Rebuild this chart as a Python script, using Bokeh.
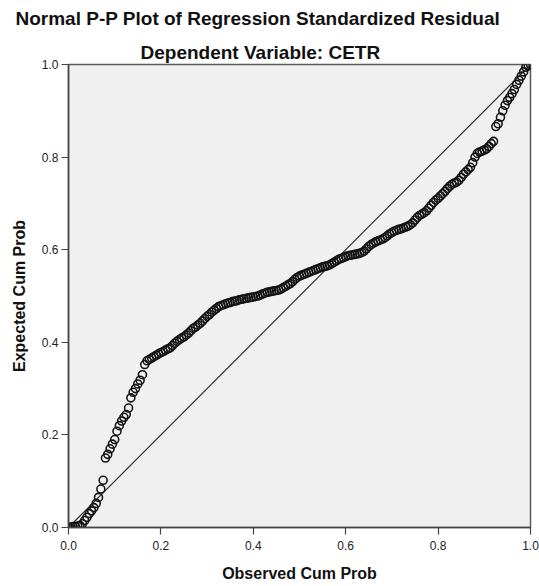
from bokeh.plotting import figure
from bokeh.models import Title, FixedTicker, ColumnDataSource, NumeralTickFormatter
from bokeh.embed import file_html
from bokeh.resources import INLINE

title_main = "Normal P-P Plot of Regression Standardized Residual"
title_sub = "Dependent Variable: CETR"
x_label = "Observed Cum Prob"
y_label = "Expected Cum Prob"
ticks = [0.0, 0.2, 0.4, 0.6, 0.8, 1.0]

observed = [
    0.000, 0.005, 0.010, 0.015, 0.020, 0.025, 0.030, 0.035, 0.040, 0.045,
    0.050, 0.055, 0.060, 0.065, 0.070, 0.075, 0.080, 0.085, 0.090, 0.095,
    0.100, 0.105, 0.110, 0.115, 0.120, 0.125, 0.130, 0.135, 0.140, 0.145,
    0.150, 0.155, 0.160, 0.165, 0.170, 0.175, 0.180, 0.185, 0.190, 0.195,
    0.200, 0.205, 0.210, 0.215, 0.220, 0.225, 0.230, 0.235, 0.240, 0.245,
    0.250, 0.255, 0.260, 0.265, 0.270, 0.275, 0.280, 0.285, 0.290, 0.295,
    0.300, 0.305, 0.310, 0.315, 0.320, 0.325, 0.330, 0.335, 0.340, 0.345,
    0.350, 0.355, 0.360, 0.365, 0.370, 0.375, 0.380, 0.385, 0.390, 0.395,
    0.400, 0.405, 0.410, 0.415, 0.420, 0.425, 0.430, 0.435, 0.440, 0.445,
    0.450, 0.455, 0.460, 0.465, 0.470, 0.475, 0.480, 0.485, 0.490, 0.495,
    0.500, 0.505, 0.510, 0.515, 0.520, 0.525, 0.530, 0.535, 0.540, 0.545,
    0.550, 0.555, 0.560, 0.565, 0.570, 0.575, 0.580, 0.585, 0.590, 0.595,
    0.600, 0.605, 0.610, 0.615, 0.620, 0.625, 0.630, 0.635, 0.640, 0.645,
    0.650, 0.655, 0.660, 0.665, 0.670, 0.675, 0.680, 0.685, 0.690, 0.695,
    0.700, 0.705, 0.710, 0.715, 0.720, 0.725, 0.730, 0.735, 0.740, 0.745,
    0.750, 0.755, 0.760, 0.765, 0.770, 0.775, 0.780, 0.785, 0.790, 0.795,
    0.800, 0.805, 0.810, 0.815, 0.820, 0.825, 0.830, 0.835, 0.840, 0.845,
    0.850, 0.855, 0.860, 0.865, 0.870, 0.875, 0.880, 0.885, 0.890, 0.895,
    0.900, 0.905, 0.910, 0.915, 0.920, 0.925, 0.930, 0.935, 0.940, 0.945,
    0.950, 0.955, 0.960, 0.965, 0.970, 0.975, 0.980, 0.985, 0.990, 0.995,
    1.000,
]

expected = [
    0.000, 0.001, 0.002, 0.002, 0.003, 0.004, 0.008, 0.015, 0.022, 0.030,
    0.036, 0.043, 0.052, 0.065, 0.083, 0.102, 0.150, 0.158, 0.170, 0.180,
    0.190, 0.208, 0.220, 0.230, 0.238, 0.244, 0.258, 0.280, 0.292, 0.300,
    0.310, 0.318, 0.330, 0.352, 0.360, 0.363, 0.366, 0.369, 0.372, 0.375,
    0.378, 0.380, 0.383, 0.386, 0.388, 0.393, 0.398, 0.402, 0.406, 0.409,
    0.412, 0.416, 0.420, 0.425, 0.430, 0.433, 0.437, 0.441, 0.446, 0.451,
    0.456, 0.460, 0.465, 0.469, 0.473, 0.477, 0.479, 0.481, 0.483, 0.485,
    0.486, 0.488, 0.489, 0.490, 0.492, 0.493, 0.494, 0.495, 0.496, 0.497,
    0.498, 0.499, 0.500, 0.502, 0.504, 0.506, 0.508, 0.509, 0.510, 0.511,
    0.512, 0.513, 0.515, 0.518, 0.521, 0.524, 0.527, 0.531, 0.536, 0.540,
    0.543, 0.545, 0.547, 0.549, 0.551, 0.553, 0.555, 0.557, 0.559, 0.561,
    0.563, 0.564, 0.565, 0.567, 0.570, 0.573, 0.576, 0.579, 0.581, 0.583,
    0.585, 0.587, 0.588, 0.589, 0.590, 0.591, 0.592, 0.594, 0.597, 0.602,
    0.607, 0.611, 0.614, 0.617, 0.619, 0.621, 0.623, 0.626, 0.630, 0.634,
    0.637, 0.640, 0.642, 0.644, 0.645, 0.647, 0.649, 0.651, 0.654, 0.658,
    0.664, 0.670, 0.674, 0.677, 0.680, 0.684, 0.690, 0.696, 0.702, 0.707,
    0.711, 0.716, 0.721, 0.726, 0.732, 0.737, 0.741, 0.744, 0.746, 0.750,
    0.756, 0.763, 0.768, 0.773, 0.778, 0.788, 0.800, 0.808, 0.811, 0.813,
    0.815, 0.818, 0.823, 0.829, 0.834, 0.866, 0.872, 0.886, 0.900, 0.912,
    0.922, 0.929, 0.937, 0.946, 0.957, 0.966, 0.975, 0.984, 0.994, 0.998,
    1.000,
]

ref_x = [0.0, 1.0]
ref_y = [0.0, 1.0]

FONT = "Liberation Sans"

p = figure(
    width=539, height=586,
    x_range=(0, 1), y_range=(0, 1),
    output_backend="svg", toolbar_location=None,
    min_border_left=68, min_border_right=9,
    min_border_top=64, min_border_bottom=59,
    background_fill_color="#F0F0F0", border_fill_color="white",
)
p.title = None

sub = Title(text=title_sub, align="left", offset=72, text_font=FONT,
            text_font_size="19px", text_font_style="bold",
            text_color="#111111", standoff=3)
main = Title(text=title_main, align="left", offset=-53, text_font=FONT,
             text_font_size="19px", text_font_style="bold",
             text_color="#111111", standoff=15, vertical_align="top")
p.add_layout(sub, "above")
p.add_layout(main, "above")

p.outline_line_color = "#5a5a5a"
p.outline_line_width = 1.5
p.xgrid.visible = False
p.ygrid.visible = False

for ax in (p.xaxis[0], p.yaxis[0]):
    ax.ticker = FixedTicker(ticks=ticks)
    ax.formatter = NumeralTickFormatter(format="0.0")
    ax.minor_tick_line_color = None
    ax.major_tick_in = 0
    ax.major_tick_out = 7
    ax.axis_line_color = "#444444"
    ax.axis_line_width = 1.5
    ax.major_tick_line_color = "#444444"
    ax.major_tick_line_width = 1.2
    ax.major_label_text_font = FONT
    ax.major_label_text_font_size = "12px"
    ax.major_label_text_color = "#222222"
    ax.axis_label_text_font = FONT
    ax.axis_label_text_font_size = "16px"
    ax.axis_label_text_font_style = "bold"
    ax.axis_label_text_color = "#111111"

p.xaxis.axis_label = x_label
p.yaxis.axis_label = y_label
p.xaxis.major_label_standoff = 6
p.yaxis.major_label_standoff = 3
p.xaxis.axis_label_standoff = 12
p.yaxis.axis_label_standoff = 11

p.line(ref_x, ref_y, line_color="#333333", line_width=1.2)

src = ColumnDataSource(dict(x=observed, y=expected))
p.scatter("x", "y", source=src, marker="circle", size=8, fill_color=None,
          line_color="#141414", line_width=1.6)

open("out.html", "w").write(file_html(p, INLINE))
